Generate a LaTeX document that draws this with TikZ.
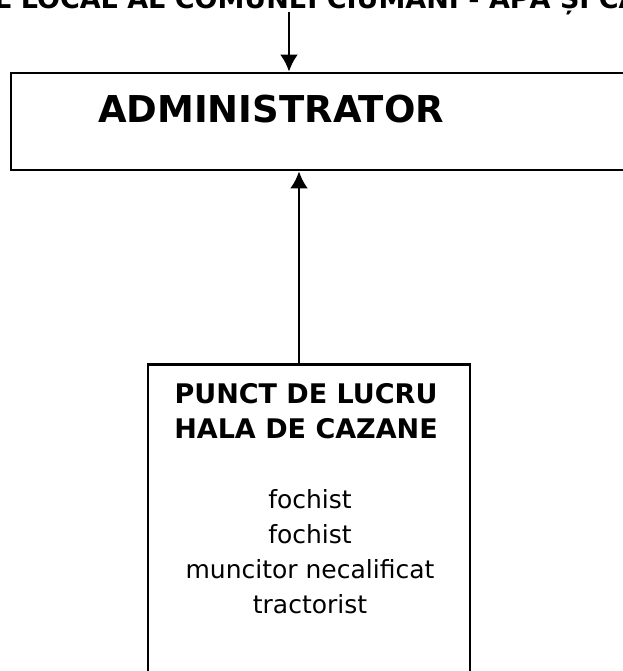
\documentclass[tikz,border=0pt]{standalone}
\usepackage{fontspec}
\setmainfont{DejaVu Sans}
\usetikzlibrary{positioning}
\usetikzlibrary{arrows.meta}
\pgfdeclarelayer{edgelayer}
\pgfdeclarelayer{nodelayer}
\pgfsetlayers{edgelayer,nodelayer,main}
\tikzstyle{unit}=[rectangle,fill=white,draw=black,line width=2.8pt,inner sep=0pt]
\tikzstyle{heading}=[font=\fontsize{27}{35}\selectfont\bfseries,align=center,inner sep=0pt]
\tikzstyle{staff}=[font=\fontsize{25}{35}\selectfont,align=center,inner sep=0pt]
\tikzstyle{link}=[-{Latex[length=17pt,width=18pt]},draw=black,line width=2.8pt]

\begin{document}
\begin{tikzpicture}[x=1pt,y=-1pt]
	\useasboundingbox (0,0) rectangle (622,671);
	\clip (0,0) rectangle (622,671);
	\begin{pgfonlayer}{nodelayer}
		\node [style=heading, anchor=base west] (council) at (-150,9) {CONSILIUL LOCAL AL COMUNEI CIUMANI - APĂ ȘI CANALIZARE};
		\node [style=unit, minimum width=640pt, minimum height=97pt] (admin) at (331,121.5) {};
		\node [style=heading, font=\fontsize{37}{44}\selectfont\bfseries, anchor=base] (admintxt) at (271,123) {ADMINISTRATOR};
		\node [style=unit, minimum width=322pt, minimum height=360pt, anchor=north] (hala) at (309,363) {};
		\node [style=heading, anchor=north] (halatxt) at (306,383) {PUNCT DE LUCRU\\HALA DE CAZANE};
		\node [style=staff, anchor=north] (staff) at (310,489) {fochist\\fochist\\muncitor necalificat\\tractorist};
	\end{pgfonlayer}
	\coordinate (from) at (289,12);
	\begin{pgfonlayer}{edgelayer}
		\draw [style=link] (from) to (from |- admin.north);
		\draw [style=link] ([xshift=-10pt]hala.north) to ([xshift=-10pt]hala.north |- admin.south);
	\end{pgfonlayer}
\end{tikzpicture}
\end{document}
